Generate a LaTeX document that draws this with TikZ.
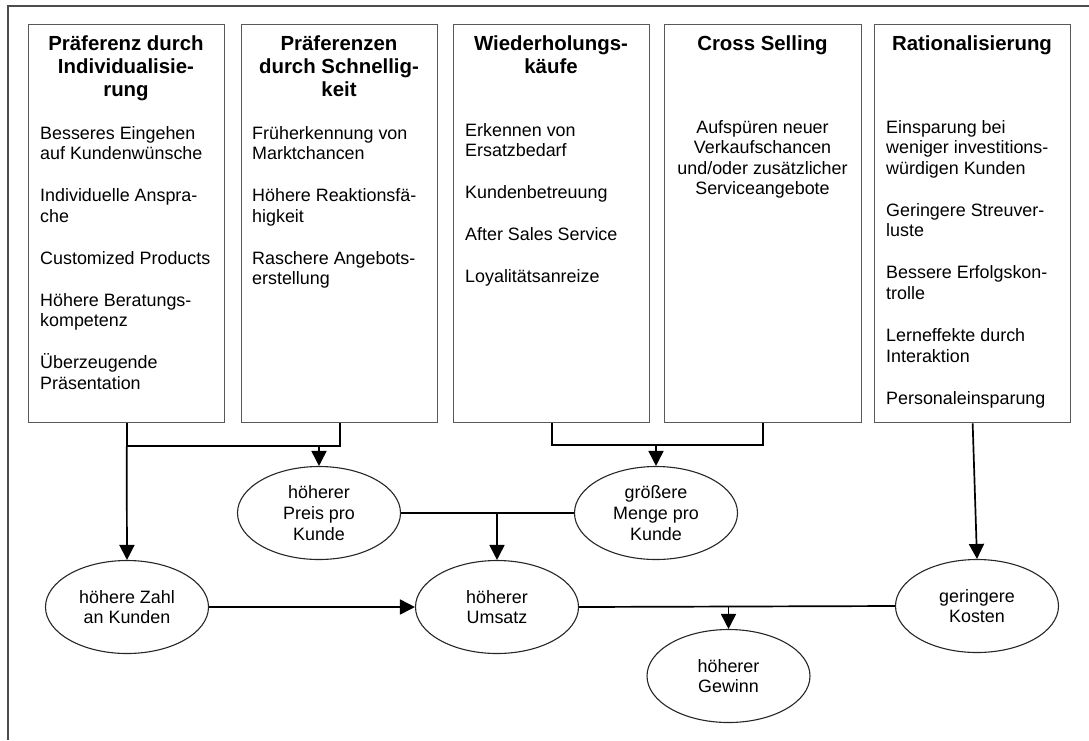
\documentclass[tikz,border=0pt]{standalone}
\usepackage{fontspec}
\setmainfont{Liberation Sans}
\usetikzlibrary{shapes.geometric,arrows.meta,calc}
\newcommand\bodyfont{\fontsize{17.9}{20.6}\selectfont}
\newcommand\titlefont{\bfseries\fontsize{20.4}{23.2}\selectfont}
\newcommand\gap{\\[21.4pt]}
\begin{document}
\begin{tikzpicture}[x=1pt,y=-1pt,
  frame/.style={draw=black!70,line width=1.5pt},
  box/.style={draw=black!65,line width=1.3pt,anchor=north west,minimum height=398pt,inner sep=0pt},
  ttl/.style={anchor=base,inner sep=0pt},
  txt/.style={anchor=base west,inner sep=0pt},
  ell/.style={ellipse,draw=black!85,line width=1.1pt,minimum width=163pt,minimum height=93pt,inner sep=0pt,align=center,font=\bodyfont},
  conn/.style={draw=black,line width=1.7pt},
  arr/.style={conn,-{Triangle[length=15pt,width=15pt]}}]
\useasboundingbox (0,0) rectangle (1089,740);
\draw[frame] (8,740) -- (8,6) -- (1089,6);
% boxes
\node[box,minimum width=196pt] (b1) at (28,24) {};
\node[box,minimum width=196pt] (b2) at (241,24) {};
\node[box,minimum width=196pt] (b3) at (453,24) {};
\node[box,minimum width=197pt] (b4) at (664,24) {};
\node[box,minimum width=196pt] (b5) at (874,24) {};
% titles
\node[ttl] (t1) at (126,50) {\parbox[t]{190pt}{\centering\titlefont Präferenz durch\\Individualisie-\\rung}};
\node[ttl] (t2) at (339,50) {\parbox[t]{190pt}{\centering\titlefont Präferenzen\\durch Schnellig-\\keit}};
\node[ttl] (t3) at (551,50) {\parbox[t]{190pt}{\centering\titlefont Wiederholungs-\\käufe}};
\node[ttl] (t4) at (762.5,50) {\parbox[t]{190pt}{\centering\titlefont Cross Selling}};
\node[ttl] (t5) at (972,50) {\parbox[t]{190pt}{\centering\titlefont Rationalisierung}};
% items
\node[txt] (i1) at (40,139) {\parbox[t]{182pt}{\raggedright\bodyfont Besseres Eingehen\\auf Kundenwünsche\gap Individuelle Anspra-\\che\gap Customized Products\gap Höhere Beratungs-\\kompetenz\gap Überzeugende\\Präsentation}};
\node[txt] (i2) at (252,139) {\parbox[t]{182pt}{\raggedright\bodyfont Früherkennung von\\Marktchancen\gap Höhere Reaktionsfä-\\higkeit\gap Raschere Angebots-\\erstellung}};
\node[txt] (i3) at (465,136) {\parbox[t]{182pt}{\raggedright\bodyfont Erkennen von\\Ersatzbedarf\gap Kundenbetreuung\gap After Sales Service\gap Loyalitätsanreize}};
\node[ttl] (i4) at (762.5,133) {\parbox[t]{190pt}{\centering\bodyfont Aufspüren neuer\\Verkaufschancen\\und/oder zusätzlicher\\Serviceangebote}};
\node[txt] (i5) at (886,133) {\parbox[t]{182pt}{\raggedright\bodyfont Einsparung bei\\weniger investitions-\\würdigen Kunden\gap Geringere Streuver-\\luste\gap Bessere Erfolgskon-\\trolle\gap Lerneffekte durch\\Interaktion\gap Personaleinsparung}};
% ellipses
\node[ell] (preis) at (319,513) {höherer\\Preis pro\\Kunde};
\node[ell] (menge) at (656,513) {größere\\Menge pro\\Kunde};
\node[ell] (zahl) at (127,607) {höhere Zahl\\an Kunden};
\node[ell] (umsatz) at (497,607) {höherer\\Umsatz};
\node[ell] (kosten) at (977,606) {geringere\\Kosten};
\node[ell] (gewinn) at (728.5,676) {höherer\\Gewinn};
% connectors
\coordinate (j1) at ($(b1.south)+(0,23)$);
\coordinate (j2) at ($(b3.south)+(0,22)$);
\draw[conn] (b1.south) -- (j1) -| (b2.south);
\draw[arr] (j1) -- (zahl.north);
\draw[arr] (j1 -| preis.north) -- (preis.north);
\draw[conn] (b3.south) -- (j2) -| (b4.south);
\draw[arr] (j2 -| menge.north) -- (menge.north);
\draw[conn] (preis.east) -- (menge.west);
\draw[arr] (preis.east -| umsatz.north) -- (umsatz.north);
\draw[arr] (zahl.east) -- (umsatz.west);
\draw[conn] (umsatz.east) -- (kosten.west);
\draw[arr] (umsatz.east -| gewinn.north) -- (gewinn.north);
\draw[arr] (b5.south) -- (kosten.north);
\end{tikzpicture}
\end{document}
